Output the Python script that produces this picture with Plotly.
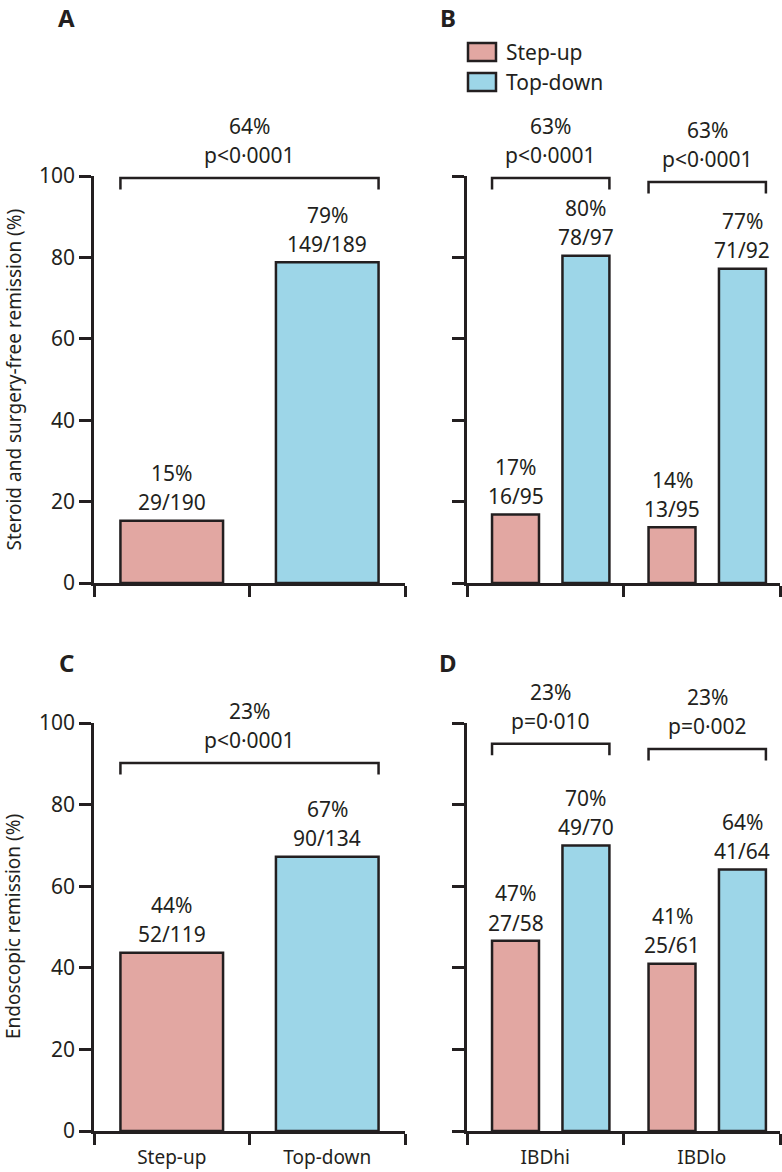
import plotly.graph_objects as go

# ---------------- data ----------------
arms = ["Step-up", "Top-down"]
subgroups = ["IBDhi", "IBDlo"]

# Panel A: steroid and surgery-free remission, overall
a_values = [15.3, 78.8]
a_pct = ["15%", "79%"]
a_frac = ["29/190", "149/189"]
a_diff = ["64%"]
a_p = ["p<0·0001"]

# Panel B: steroid and surgery-free remission, by biomarker subgroup
b_stepup = [16.8, 13.7]
b_topdown = [80.4, 77.2]
b_stepup_pct = ["17%", "14%"]
b_topdown_pct = ["80%", "77%"]
b_stepup_frac = ["16/95", "13/95"]
b_topdown_frac = ["78/97", "71/92"]
b_diff = ["63%", "63%"]
b_p = ["p<0·0001", "p<0·0001"]

# Panel C: endoscopic remission, overall
c_values = [43.7, 67.2]
c_pct = ["44%", "67%"]
c_frac = ["52/119", "90/134"]
c_diff = ["23%"]
c_p = ["p<0·0001"]

# Panel D: endoscopic remission, by biomarker subgroup
d_stepup = [46.6, 41.0]
d_topdown = [70.0, 64.1]
d_stepup_pct = ["47%", "41%"]
d_topdown_pct = ["70%", "64%"]
d_stepup_frac = ["27/58", "25/61"]
d_topdown_frac = ["49/70", "41/64"]
d_diff = ["23%", "23%"]
d_p = ["p=0·010", "p=0·002"]

y_ticks = [0, 20, 40, 60, 80, 100]
Y_MAX = 100

# ---------------- style ----------------
W, H = 782, 1172
INK = "#231f20"
PINK = "#e2a7a2"
BLUE = "#9dd6e8"
FONT = "Noto Sans"
LW = 2.5


def px(x):
    return x / W


def py(y):
    return 1 - y / H


fig = go.Figure()
annotations = []
shapes = []

x_dom_left = [px(94), px(405)]
x_dom_right = [px(467), px(780)]
y_dom_top = [py(583), py(176)]
y_dom_bot = [py(1131), py(723)]

panels = {
    "A": dict(ax="", xd=x_dom_left, yd=y_dom_top),
    "B": dict(ax="2", xd=x_dom_right, yd=y_dom_top),
    "C": dict(ax="3", xd=x_dom_left, yd=y_dom_bot),
    "D": dict(ax="4", xd=x_dom_right, yd=y_dom_bot),
}

LINE2 = 4.5   # offset (data units) of the fraction line above a bar
LINE1 = 11.7  # offset of the percentage line above a bar
BR_T2 = 5.6
BR_T1 = 12.7
BR_TICK = 2.8


def txt(xa, ya, x, yval, s, size=21):
    annotations.append(dict(xref=xa, yref=ya + " domain", x=x, y=yval / Y_MAX, text=s,
                            showarrow=False, font=dict(family=FONT, size=size, color=INK),
                            xanchor="center", yanchor="middle"))


def bracket(xa, ya, x0, x1, yb, top, bottom):
    yt, yl = yb / Y_MAX, (yb - BR_TICK) / Y_MAX
    shapes.append(dict(type="path", xref=xa, yref=ya + " domain",
                       path=f"M {x0},{yl} L {x0},{yt} L {x1},{yt} L {x1},{yl}",
                       line=dict(color=INK, width=LW)))
    xm = (x0 + x1) / 2
    txt(xa, ya, xm, yb + BR_T2, bottom)
    txt(xa, ya, xm, yb + BR_T1, top)


def overall(key, values, pcts, fracs, diff, p, bry):
    ax = panels[key]["ax"]
    xa, ya = "x" + ax, "y" + ax
    wid = 0.66
    for i, (name, col) in enumerate(zip(arms, [PINK, BLUE])):
        fig.add_trace(go.Bar(x=[i], y=[values[i]], name=name, width=wid,
                             marker=dict(color=col, line=dict(color=INK, width=LW)),
                             xaxis=xa, yaxis=ya, showlegend=False, hoverinfo="skip"))
        txt(xa, ya, i, values[i] + LINE2, fracs[i])
        txt(xa, ya, i, values[i] + LINE1, pcts[i])
    bracket(xa, ya, -wid / 2, 1 + wid / 2, bry, diff[0], p[0])


def subgroup(key, su, td, su_pct, td_pct, su_frac, td_frac, diff, p, bry):
    ax = panels[key]["ax"]
    xa, ya = "x" + ax, "y" + ax
    wid, off_su, off_td = 0.30, -0.34, 0.11
    xs = list(range(len(subgroups)))
    fig.add_trace(go.Bar(x=xs, y=su, name=arms[0], width=wid, offset=off_su,
                         marker=dict(color=PINK, line=dict(color=INK, width=LW)),
                         xaxis=xa, yaxis=ya, showlegend=False, hoverinfo="skip"))
    fig.add_trace(go.Bar(x=xs, y=td, name=arms[1], width=wid, offset=off_td,
                         marker=dict(color=BLUE, line=dict(color=INK, width=LW)),
                         xaxis=xa, yaxis=ya, showlegend=False, hoverinfo="skip"))
    for i in xs:
        xs_c = i + off_su + wid / 2
        xt_c = i + off_td + wid / 2
        txt(xa, ya, xs_c, su[i] + LINE2, su_frac[i])
        txt(xa, ya, xs_c, su[i] + LINE1, su_pct[i])
        txt(xa, ya, xt_c, td[i] + LINE2, td_frac[i])
        txt(xa, ya, xt_c, td[i] + LINE1, td_pct[i])
        bracket(xa, ya, i + off_su, i + off_td + wid, bry[i], diff[i], p[i])


overall("A", a_values, a_pct, a_frac, a_diff, a_p, 99.5)
subgroup("B", b_stepup, b_topdown, b_stepup_pct, b_topdown_pct, b_stepup_frac, b_topdown_frac,
         b_diff, b_p, [99.5, 98.5])
overall("C", c_values, c_pct, c_frac, c_diff, c_p, 90.2)
subgroup("D", d_stepup, d_topdown, d_stepup_pct, d_topdown_pct, d_stepup_frac, d_topdown_frac,
         d_diff, d_p, [94.9, 93.6])

# ----- axes -----
layout_axes = {}
for key, pinfo in panels.items():
    ax = pinfo["ax"]
    labels = None
    if key == "C":
        labels = arms
    elif key == "D":
        labels = subgroups
    xa = dict(domain=pinfo["xd"], anchor="y" + ax, range=[-0.5, 1.5], automargin=False,
              showline=True, linecolor=INK, linewidth=LW, showgrid=False, zeroline=False,
              tickmode="array", tickvals=[0, 1], ticktext=labels if labels else ["", ""],
              ticks="outside", ticklen=7, tickcolor="rgba(0,0,0,0)",
              showticklabels=labels is not None,
              tickfont=dict(family=FONT, size=19, color=INK),
              minor=dict(tickmode="array", tickvals=[-0.5, 0.5, 1.5], ticks="outside",
                         ticklen=11, tickwidth=LW, tickcolor=INK),
              fixedrange=True)
    ya = dict(domain=pinfo["yd"], anchor="x" + ax, range=[0, Y_MAX], automargin=False,
              showline=True, linecolor=INK, linewidth=LW, showgrid=False, zeroline=False,
              tickmode="array", tickvals=y_ticks, ticks="outside", ticklen=12, tickwidth=LW,
              tickcolor=INK, showticklabels=key in ("A", "C"),
              tickfont=dict(family=FONT, size=21, color=INK), fixedrange=True)
    layout_axes["xaxis" + ax] = xa
    layout_axes["yaxis" + ax] = ya

# y axis titles as rotated annotations
for title, yc in [("Steroid and surgery-free remission (%)", 379.5),
                  ("Endoscopic remission (%)", 927)]:
    annotations.append(dict(xref="paper", yref="paper", x=px(13), y=py(yc), text=title,
                            textangle=-90, showarrow=False, xanchor="center", yanchor="middle",
                            font=dict(family=FONT, size=19, color=INK)))

# panel letters (top letters anchored at the figure's top edge so they are not clipped)
for letter, (lx, ly, anchor) in {"A": (66, 0, "top"), "B": (448, 0, "top"),
                                 "C": (66, 662, "middle"), "D": (448, 662, "middle")}.items():
    annotations.append(dict(xref="paper", yref="paper", x=px(lx), y=py(ly), text=f"<b>{letter}</b>",
                            showarrow=False, xanchor="center", yanchor=anchor, borderpad=0,
                            font=dict(family=FONT, size=24, color=INK)))

# legend (drawn in panel B)
for (name, col), (y0, y1) in zip(zip(arms, [PINK, BLUE]), [(43, 61), (73, 91)]):
    shapes.append(dict(type="rect", xref="paper", yref="paper", x0=px(468), x1=px(496),
                       y0=py(y1), y1=py(y0), fillcolor=col, line=dict(color=INK, width=LW)))
    annotations.append(dict(xref="paper", yref="paper", x=px(504), y=py((y0 + y1) / 2),
                            text=name, showarrow=False, xanchor="left", yanchor="middle",
                            font=dict(family=FONT, size=21, color=INK)))

fig.update_layout(
    width=W, height=H,
    margin=dict(l=0, r=0, t=0, b=0, pad=0, autoexpand=False),
    paper_bgcolor="white", plot_bgcolor="white",
    showlegend=False,
    annotations=annotations,
    shapes=shapes,
    **layout_axes,
)

# remove the default page margin so the figure fills the window exactly
fig.write_html("out.html",
               config={"displayModeBar": False},
               post_script="document.body.style.margin='0';document.body.style.overflow='hidden';")
